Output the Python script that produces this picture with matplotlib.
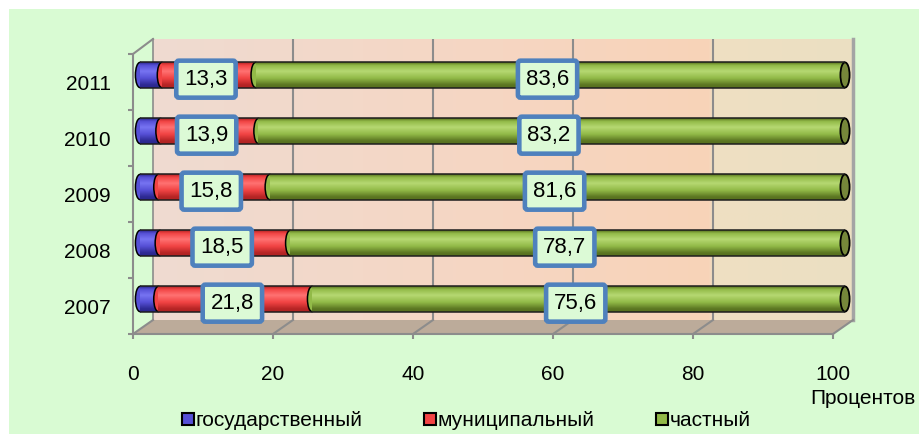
import numpy as np
import matplotlib
matplotlib.use("Agg")
from matplotlib import pyplot as plt
from matplotlib.patches import Rectangle, Polygon, Ellipse
from matplotlib.lines import Line2D
import matplotlib.colors as mcolors

plt.rcParams['font.family'] = ['Liberation Sans Narrow', 'Liberation Sans', 'DejaVu Sans']

### Données
annees = ["2007", "2008", "2009", "2010", "2011"]
gosud = [2.6, 2.8, 2.6, 2.9, 3.1]
munic = [21.8, 18.5, 15.8, 13.9, 13.3]
chastn = [75.6, 78.7, 81.6, 83.2, 83.6]
legende = ["государственный", "муниципальный", "частный"]
x_ticks = [0, 20, 40, 60, 80, 100]

# couleurs (sombre, moyen, clair)
teintes = [("#2a268c", "#5650d6", "#7774f2"),
           ("#b02222", "#f24444", "#ff7272"),
           ("#566f1e", "#92ba48", "#b6d872")]
c_legende = ["#5650d6", "#f24444", "#92ba48"]

W, H = 919, 434
def fx(x):
    return x / W
def fy(y):
    return 1 - y / H

def degrade(t):
    sombre, moyen, clair = [np.array(mcolors.to_rgb(c)) for c in t]
    pos = [0, 0.12, 0.35, 0.62, 0.88, 1.0]
    cols = [sombre, moyen, clair, moyen, sombre * 0.9 + moyen * 0.1, sombre]
    y = np.linspace(0, 1, 60)
    res = np.zeros((60, 1, 3))
    for k in range(3):
        res[:, 0, k] = np.interp(y, pos, [c[k] for c in cols])
    return res

fig = plt.figure(figsize=(W / 100, H / 100), dpi=100)
fig.patch.set_facecolor("white")
fig.add_artist(Rectangle((fx(9), 0), 1 - fx(9), fy(9), transform=fig.transFigure,
                         facecolor="#d9fbd3", edgecolor="none", zorder=0))

gris = "#8c8c8c"

### mur du fond
ax_mur = fig.add_axes([fx(153), fy(320), 700 / W, 281 / H], zorder=1)
stops = [(0, "#efdbd1"), (0.5, "#f6d6c2"), (0.795, "#f8d3b8"), (0.80, "#efdfc2"), (1.0, "#ebe0c2")]
xs = np.linspace(0, 1, 400)
grad = np.zeros((1, 400, 3))
for k in range(3):
    grad[0, :, k] = np.interp(xs, [s[0] for s in stops], [mcolors.to_rgb(s[1])[k] for s in stops])
ax_mur.imshow(grad, extent=[0, 100, 0, 1], aspect='auto', zorder=0)
ax_mur.set_xlim(0, 100)
ax_mur.set_ylim(0, 1)
ax_mur.set_xticks([20, 40, 60, 80])
ax_mur.set_yticks([])
ax_mur.tick_params(length=0, labelbottom=False)
ax_mur.grid(axis='x', color=gris, lw=1.5)
for s in ["top", "bottom"]:
    ax_mur.spines[s].set_visible(False)
ax_mur.spines["left"].set_color(gris)
ax_mur.spines["left"].set_linewidth(1.2)
ax_mur.spines["right"].set_color("#a4a4a4")
ax_mur.spines["right"].set_linewidth(2.5)

### sol
fig.add_artist(Polygon([(fx(133), fy(334)), (fx(153), fy(320)), (fx(853), fy(320)), (fx(833), fy(334))],
                       closed=True, transform=fig.transFigure, facecolor="#bcab9a",
                       edgecolor="none", zorder=1.5))
for k in range(6):
    fig.add_artist(Line2D([fx(133 + 140 * k), fx(153 + 140 * k)], [fy(334), fy(320)],
                          transform=fig.transFigure, color=gris, lw=1.5, zorder=1.6))
fig.add_artist(Line2D([fx(133), fx(153)], [fy(54), fy(39)], transform=fig.transFigure,
                      color=gris, lw=1.5, zorder=1.6))

### axes avant (graduations)
ax_av = fig.add_axes([fx(133), fy(334), 700 / W, 280 / H], zorder=2)
ax_av.patch.set_alpha(0)
ax_av.set_xlim(0, 100)
ax_av.set_ylim(-0.5, 4.5)
ax_av.set_xticks(x_ticks)
ax_av.set_xticklabels([str(v) for v in x_ticks])
ax_av.set_yticks(range(len(annees)))
ax_av.set_yticklabels(annees)
ax_av.set_yticks(np.arange(-0.5, 5, 1), minor=True)
ax_av.tick_params(axis='x', length=3.6, width=1.5, color=gris, labelsize=15, pad=19)
ax_av.tick_params(axis='y', which='major', length=0, labelsize=15, pad=16)
ax_av.tick_params(axis='y', which='minor', length=3.6, width=1.5, color=gris)
for s in ["top", "right"]:
    ax_av.spines[s].set_visible(False)
for s in ["left", "bottom"]:
    ax_av.spines[s].set_color(gris)
    ax_av.spines[s].set_linewidth(1.5)

### barres
ax = fig.add_axes([fx(140), fy(327), 705 / W, 280 / H], zorder=3)
ax.patch.set_alpha(0)
ax.axis("off")
h = 0.45
ew = 1.3
series = [gosud, munic, chastn]
for i in range(len(annees)):
    gauche = 0
    for j, serie in enumerate(series):
        v = serie[i]
        z = 10 + j * 3
        ax.add_patch(Ellipse((gauche, i), ew, h, facecolor=teintes[j][1], edgecolor="black",
                             lw=1.1, zorder=z, clip_on=False))
        ax.imshow(degrade(teintes[j]), extent=[gauche, gauche + v, i - h / 2, i + h / 2],
                  aspect='auto', origin='upper', interpolation='bilinear', zorder=z + 1)
        gauche += v
    ax.add_patch(Ellipse((gauche, i), ew, h, facecolor="#76873a", edgecolor="black", lw=1.3,
                         zorder=20, clip_on=False))
    ax.hlines([i - h / 2, i + h / 2], 0, gauche, color="#1e1e1e", lw=1.1, zorder=21)

boite = dict(boxstyle="round,pad=0.36,rounding_size=0.12", fc="#dcfad6", ec="#4f81bd", lw=3.3)
for i in range(len(annees)):
    cx = gosud[i] + munic[i] / 2
    ax.annotate(f"{munic[i]:.1f}".replace(".", ","), xy=(cx, i), xytext=(-2, -3),
                textcoords="offset points", ha="center", va="center", fontsize=16,
                bbox=boite, zorder=30)
    cx = gosud[i] + munic[i] + chastn[i] / 2
    ax.annotate(f"{chastn[i]:.1f}".replace(".", ","), xy=(cx, i), xytext=(-2, -3),
                textcoords="offset points", ha="center", va="center", fontsize=16,
                bbox=boite, zorder=30)
ax.set_xlim(0, 100)
ax.set_ylim(-0.5, 4.5)

fig.text(fx(810), fy(399), "Процентов", ha="left", va="center", fontsize=15)

poignees = [Line2D([], [], marker="s", ls="none", markersize=8, markerfacecolor=c,
                   markeredgecolor="black", markeredgewidth=1.5) for c in c_legende]
fig.legend(poignees, legende, loc="center left", bbox_to_anchor=(fx(183), fy(421)), ncol=3,
           frameon=False, fontsize=15, handlelength=0.5, handletextpad=0.1, columnspacing=3.0,
           borderpad=0, borderaxespad=0)

fig.savefig("out.png", dpi=100)
